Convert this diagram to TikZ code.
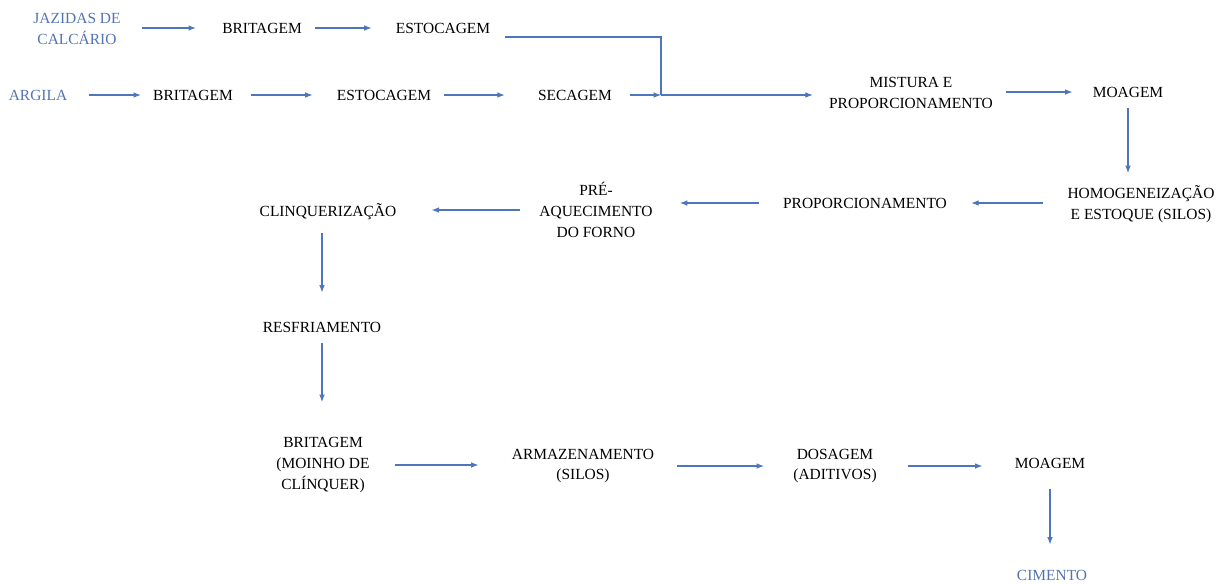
\documentclass[tikz,border=0pt]{standalone}
\usepackage{fontspec}
\setmainfont{Liberation Serif}
\usepackage{tikz}
\usetikzlibrary{arrows.meta,calc}
\definecolor{seta}{RGB}{78,118,186}
\definecolor{azul}{RGB}{84,116,176}

\begin{document}
\begin{tikzpicture}[x=0.02cm, y=-0.02cm,
  etapa/.style={inner sep=0pt, align=center, font=\fontsize{8.8}{11.9}\selectfont},
  origem/.style={etapa, text=azul},
  fluxo/.style={draw=seta, line width=0.6pt, -{Latex[length=4.2pt,width=3.2pt]}},
  linha/.style={draw=seta, line width=0.6pt}]

\useasboundingbox (0,0) rectangle (1227,583);

% Linha do calcario
\node[origem] (jaz)   at (77,29)   {JAZIDAS DE\\CALCÁRIO};
\node[etapa]  (brit1) at (262,28)  {BRITAGEM};
\node[etapa]  (est1)  at (443,28)  {ESTOCAGEM};

% Linha da argila
\node[origem] (arg)   at (38,95)   {ARGILA};
\node[etapa]  (brit2) at (193,95)  {BRITAGEM};
\node[etapa]  (est2)  at (384,95)  {ESTOCAGEM};
\node[etapa]  (sec)   at (575,95)  {SECAGEM};
\coordinate (junc) at (661,95);

\node[etapa]  (mist)  at (911,93)  {MISTURA E\\PROPORCIONAMENTO};
\node[etapa]  (moag1) at (1128,92) {MOAGEM};

% Forno
\node[etapa]  (homog) at (1141,204) {HOMOGENEIZAÇÃO\\E ESTOQUE (SILOS)};
\node[etapa]  (prop)  at (865,203)  {PROPORCIONAMENTO};
\node[etapa]  (pre)   at (596,210)  {PRÉ-\\AQUECIMENTO\\DO FORNO};
\node[etapa]  (clinq) at (328,212)  {CLINQUERIZAÇÃO};
\node[etapa]  (resf)  at (322,327)  {RESFRIAMENTO};

% Moagem final
\node[etapa]  (brit3) at (323,465)  {BRITAGEM\\(MOINHO DE\\CLÍNQUER)};
\node[etapa]  (arm)   at (583,466)  {ARMAZENAMENTO\\(SILOS)};
\node[etapa]  (dos)   at (835,466)  {DOSAGEM\\(ADITIVOS)};
\node[etapa]  (moag2) at (1050,463) {MOAGEM};
\node[origem] (cim)   at (1052,575) {CIMENTO};

% Setas
\draw[fluxo, shorten <=0.42cm, shorten >=0.52cm] (jaz.east |- brit1.west) -- (brit1.west);
\draw[fluxo, shorten <=0.26cm, shorten >=0.48cm] (brit1) -- (est1);
\draw[linha] ([shift={(15,9)}]est1.east) -| (junc);

\draw[fluxo, shorten <=0.42cm, shorten >=0.24cm] (arg) -- (brit2);
\draw[fluxo, shorten <=0.36cm, shorten >=0.48cm] (brit2) -- (est2);
\draw[fluxo, shorten <=0.26cm, shorten >=0.66cm] (est2) -- (sec);
\draw[fluxo, shorten <=0.36cm] (sec) -- (junc);
\draw[fluxo, shorten >=0.32cm] (junc) -- (junc -| mist.west);
\draw[fluxo, shorten <=0.26cm, shorten >=0.40cm] (mist.east |- moag1) -- (moag1.west);
\draw[fluxo, shorten <=0.2cm, shorten >=0.24cm] (moag1.south) -- (moag1.south |- homog.north);

\draw[fluxo, shorten <=0.48cm, shorten >=0.48cm] (homog.west |- prop) -- (prop.east);
\draw[fluxo, shorten <=0.48cm, shorten >=0.54cm] (prop.west) -- (prop.west -| pre.east);
\draw[fluxo, shorten <=0.38cm, shorten >=0.70cm] (pre.west) -- (pre.west -| clinq.east);
\draw[fluxo, shorten <=0.26cm, shorten >=0.58cm] (clinq.south -| resf) -- (resf.north);
\draw[fluxo, shorten <=0.2cm, shorten >=0.7cm] (resf.south) -- (resf.south |- brit3.north);

\draw[fluxo, shorten <=0.5cm, shorten >=0.66cm] (brit3) -- (brit3 -| arm.west);
\draw[fluxo, shorten <=0.44cm, shorten >=0.58cm] (arm) -- (dos);
\draw[fluxo, shorten <=0.62cm, shorten >=0.64cm] (dos) -- (dos -| moag2.west);
\draw[fluxo, shorten <=0.4cm, shorten >=0.5cm] (moag2.south) -- (moag2.south |- cim.north);

\end{tikzpicture}
\end{document}
